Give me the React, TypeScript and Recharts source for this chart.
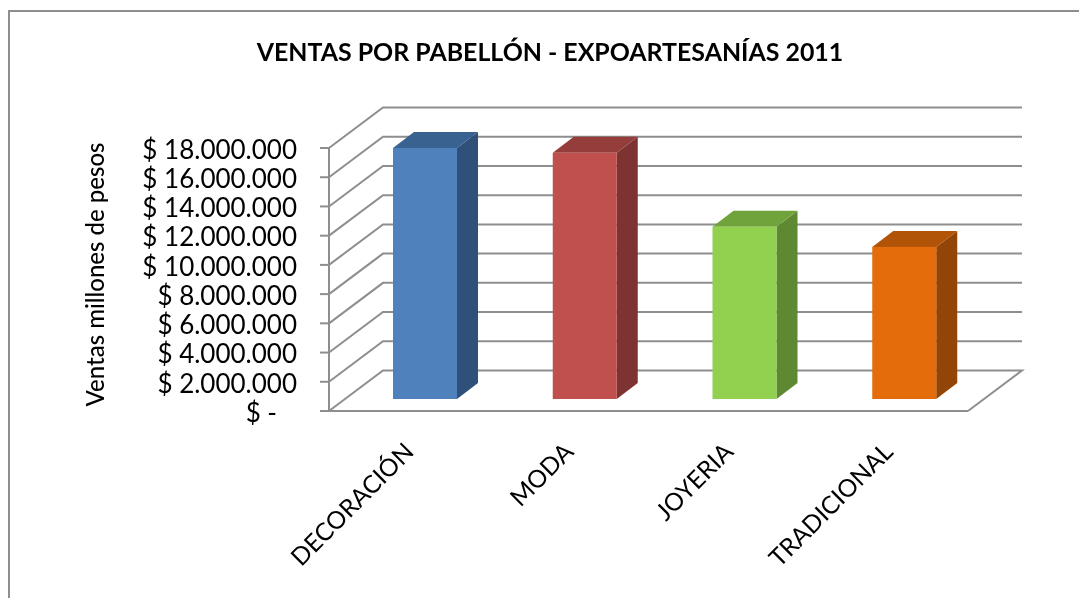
import { BarChart, Bar, XAxis, YAxis, CartesianGrid } from "recharts";

const categories = ["DECORACIÓN", "MODA", "JOYERIA", "TRADICIONAL"];
const ventas = [17180000, 16850000, 11790000, 10410000];
const yTicks = [0, 2000000, 4000000, 6000000, 8000000, 10000000, 12000000, 14000000, 16000000, 18000000];

const frontColors = ["#4F81BD", "#C0504D", "#92D050", "#E46C0A"];
const topColors = ["#3A6290", "#953D3A", "#71A33C", "#B25408"];
const sideColors = ["#2F5078", "#7D3331", "#5F8833", "#934507"];

const chartData = categories.map((name, i) => ({ name, ventas: ventas[i] }));

const FONT = "Lato, sans-serif";
const GRAY = "#8E8E8E";

// offsets of the fake 3D box
const WALL_DX = 54;
const WALL_DY = 40.5;
const BAR_DX = 16;
const BAR_DY = 12;
const DEPTH_DX = 21;
const DEPTH_DY = 16;

function formatTick(v: number) {
    if (v === 0) return "$ -\u00A0\u00A0\u00A0";
    return "$ " + v.toLocaleString("de-DE");
}

function WallLine(props: any) {
    const { x1, x2, y1 } = props;
    const isFloor = y1 > 400;
    const d =
        `M${x1},${y1} L${x1 + WALL_DX},${y1 - WALL_DY} L${x2 + WALL_DX},${y1 - WALL_DY}` +
        (isFloor ? ` L${x2},${y1}` : "");
    return <path d={d} fill="none" stroke={GRAY} strokeWidth={2} />;
}

function Box3D(props: any) {
    const { x, y, width, height, index } = props;
    const fx = x + BAR_DX;
    const fy = y - BAR_DY;
    const r = fx + width;
    const b = fy + height;
    return (
        <g>
            <polygon
                points={`${r},${fy} ${r + DEPTH_DX},${fy - DEPTH_DY} ${r + DEPTH_DX},${b - DEPTH_DY} ${r},${b}`}
                fill={sideColors[index]}
            />
            <polygon
                points={`${fx},${fy} ${fx + DEPTH_DX},${fy - DEPTH_DY} ${r + DEPTH_DX},${fy - DEPTH_DY} ${r},${fy}`}
                fill={topColors[index]}
            />
            <rect x={fx} y={fy} width={width} height={height} fill={frontColors[index]} />
        </g>
    );
}

export default function App() {
    return (
        <div
            style={{
                position: "absolute",
                left: 0,
                top: 0,
                width: 1079,
                height: 598,
                overflow: "hidden",
                background: "#fff",
                filter: "blur(0.4px)",
            }}
        >
            {/* outer frame runs off the right and bottom of the picture */}
            <div
                style={{
                    position: "absolute",
                    left: 8,
                    top: 10,
                    width: 1200,
                    height: 800,
                    borderLeft: "2px solid #8E8E8E",
                    borderTop: "2px solid #8E8E8E",
                }}
            />
            <div
                style={{
                    position: "absolute",
                    left: 0,
                    top: 36,
                    width: 1100,
                    textAlign: "center",
                    fontFamily: FONT,
                    fontWeight: 700,
                    fontSize: 24.9,
                    lineHeight: "30px",
                    color: "#000",
                }}
            >
                VENTAS POR PABELLÓN - EXPOARTESANÍAS 2011
            </div>
            <div style={{ position: "absolute", left: 0, top: 0 }}>
                <BarChart
                    width={1079}
                    height={598}
                    data={chartData}
                    margin={{ top: 148, right: 111, bottom: 0, left: 0 }}
                    barSize={64}
                >
                    <CartesianGrid vertical={false} horizontal={(p: any) => <WallLine key={p.key} {...p} />} />
                    <XAxis
                        dataKey="name"
                        height={187}
                        interval={0}
                        tickLine={false}
                        axisLine={{ stroke: GRAY, strokeWidth: 2 }}
                        tick={{ fontFamily: FONT, fontSize: 24.5, fill: "#000", angle: -45, textAnchor: "end", dx: -6 }}
                        tickMargin={24}
                    />
                    <YAxis
                        width={329}
                        domain={[0, 18000000]}
                        ticks={yTicks}
                        interval={0}
                        tickFormatter={formatTick}
                        tickSize={9}
                        tickMargin={23}
                        axisLine={{ stroke: GRAY, strokeWidth: 2 }}
                        tickLine={{ stroke: GRAY, strokeWidth: 2 }}
                        tick={{ fontFamily: FONT, fontSize: 26, fill: "#000", dy: 1.5 }}
                        label={{
                            value: "Ventas millones de pesos",
                            angle: -90,
                            position: "insideLeft",
                            offset: 95,
                            dy: -5,
                            style: { fontFamily: FONT, fontSize: 24, fontWeight: 500, fill: "#000", textAnchor: "middle" },
                        }}
                    />
                    <Bar dataKey="ventas" isAnimationActive={false} shape={Box3D} />
                </BarChart>
            </div>
        </div>
    );
}
